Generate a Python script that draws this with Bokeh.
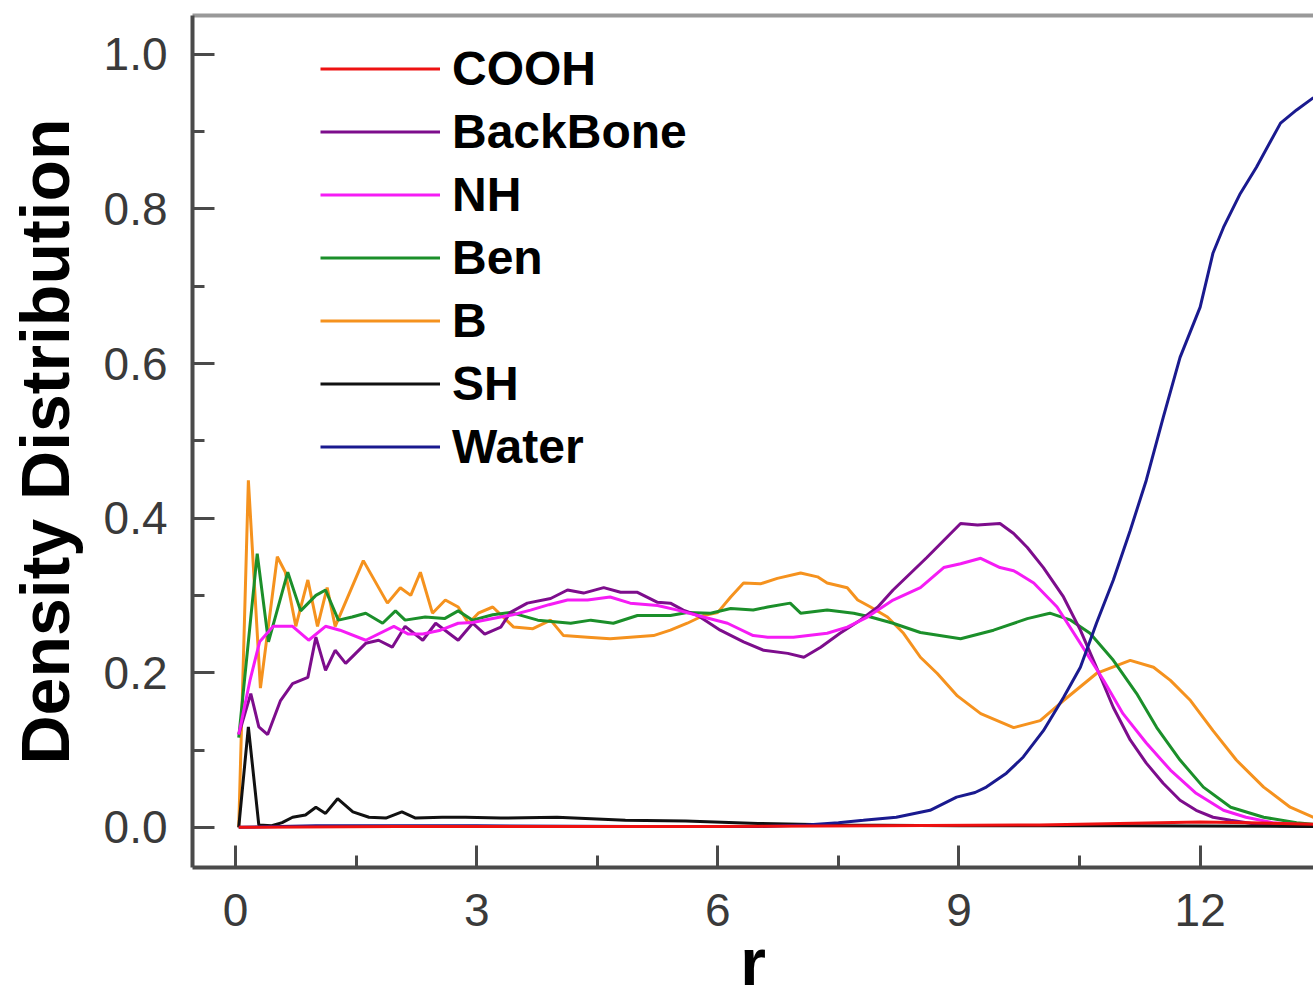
from bokeh.plotting import figure
from bokeh.models import (Range1d, FixedTicker, LinearAxis, Legend, LegendItem,
                          PrintfTickFormatter)
from bokeh.embed import file_html
from bokeh.resources import INLINE

# ---------------- data (r, density) ----------------
COOH = [(0.04, 0.0), (2.0, 0.001), (4.0, 0.001), (6.0, 0.001), (8.0, 0.002),
        (10.0, 0.003), (11.0, 0.005), (12.0, 0.007), (12.6, 0.006), (13.41, 0.004)]

BACKBONE = [(0.04, 0.12), (0.19, 0.173), (0.29, 0.13), (0.4, 0.12), (0.56, 0.164),
            (0.71, 0.186), (0.9, 0.194), (1.0, 0.246), (1.12, 0.203), (1.24, 0.229),
            (1.37, 0.212), (1.62, 0.238), (1.78, 0.242), (1.95, 0.233), (2.11, 0.26),
            (2.33, 0.242), (2.49, 0.264), (2.77, 0.242), (2.95, 0.264), (3.1, 0.25),
            (3.3, 0.259), (3.42, 0.278), (3.63, 0.29), (3.92, 0.296), (4.13, 0.307),
            (4.33, 0.303), (4.58, 0.31), (4.79, 0.304), (5.0, 0.304), (5.25, 0.291),
            (5.41, 0.29), (5.57, 0.281), (5.75, 0.274), (6.03, 0.255), (6.32, 0.24),
            (6.57, 0.229), (6.87, 0.225), (7.07, 0.22), (7.28, 0.233), (7.52, 0.251),
            (7.77, 0.268), (7.99, 0.285), (8.18, 0.307), (8.4, 0.329), (8.6, 0.349),
            (8.81, 0.371), (9.02, 0.393), (9.23, 0.391), (9.51, 0.393), (9.68, 0.38),
            (9.85, 0.362), (10.05, 0.336), (10.3, 0.298), (10.51, 0.255), (10.71, 0.207),
            (10.92, 0.155), (11.13, 0.113), (11.33, 0.083), (11.54, 0.057), (11.75, 0.035),
            (11.95, 0.022), (12.16, 0.013), (12.38, 0.009), (12.7, 0.004), (13.0, 0.002),
            (13.41, 0.001)]

NH = [(0.04, 0.12), (0.18, 0.19), (0.3, 0.24), (0.47, 0.26), (0.71, 0.26), (0.91, 0.242),
      (1.12, 0.26), (1.3, 0.255), (1.62, 0.242), (1.97, 0.26), (2.15, 0.25), (2.33, 0.25),
      (2.55, 0.255), (2.77, 0.264), (2.95, 0.265), (3.2, 0.27), (3.45, 0.275), (3.67, 0.281),
      (3.9, 0.288), (4.13, 0.294), (4.38, 0.294), (4.66, 0.298), (4.91, 0.29), (5.25, 0.287),
      (5.5, 0.281), (5.82, 0.272), (6.12, 0.264), (6.44, 0.248), (6.62, 0.246), (6.94, 0.246),
      (7.36, 0.251), (7.61, 0.259), (7.86, 0.272), (8.18, 0.294), (8.52, 0.31), (8.81, 0.336),
      (9.02, 0.341), (9.27, 0.348), (9.51, 0.336), (9.68, 0.332), (9.93, 0.316), (10.22, 0.285),
      (10.51, 0.238), (10.8, 0.19), (11.04, 0.147), (11.33, 0.109), (11.63, 0.074),
      (11.95, 0.044), (12.29, 0.022), (12.57, 0.013), (12.9, 0.006), (13.41, 0.002)]

BEN = [(0.04, 0.116), (0.27, 0.354), (0.41, 0.24), (0.65, 0.33), (0.81, 0.28), (1.0, 0.30),
       (1.12, 0.307), (1.28, 0.268), (1.45, 0.272), (1.62, 0.277), (1.83, 0.264), (1.99, 0.28),
       (2.11, 0.268), (2.36, 0.272), (2.6, 0.27), (2.77, 0.28), (2.95, 0.268), (3.2, 0.275),
       (3.42, 0.278), (3.76, 0.268), (4.17, 0.264), (4.42, 0.268), (4.7, 0.264), (5.0, 0.274),
       (5.41, 0.274), (5.62, 0.278), (5.91, 0.277), (6.16, 0.283), (6.44, 0.281), (6.62, 0.285),
       (6.9, 0.29), (7.03, 0.277), (7.36, 0.281), (7.69, 0.277), (7.9, 0.272), (8.18, 0.264),
       (8.52, 0.252), (9.02, 0.244), (9.43, 0.255), (9.85, 0.27), (10.13, 0.277), (10.39, 0.268),
       (10.63, 0.251), (10.92, 0.216), (11.21, 0.173), (11.46, 0.129), (11.75, 0.087),
       (12.04, 0.052), (12.38, 0.026), (12.79, 0.013), (13.2, 0.006), (13.41, 0.004)]

B = [(0.04, 0.0), (0.16, 0.449), (0.31, 0.18), (0.52, 0.35), (0.62, 0.33), (0.75, 0.26),
     (0.9, 0.32), (1.02, 0.26), (1.14, 0.31), (1.24, 0.26), (1.59, 0.345), (1.89, 0.29),
     (2.05, 0.31), (2.18, 0.30), (2.3, 0.33), (2.45, 0.277), (2.61, 0.294), (2.77, 0.285),
     (2.9, 0.264), (3.02, 0.277), (3.2, 0.285), (3.46, 0.259), (3.7, 0.257), (3.92, 0.268),
     (4.08, 0.248), (4.38, 0.246), (4.66, 0.244), (4.91, 0.246), (5.2, 0.248), (5.41, 0.255),
     (5.62, 0.264), (5.82, 0.274), (6.0, 0.278), (6.16, 0.298), (6.32, 0.316), (6.53, 0.315),
     (6.74, 0.322), (7.03, 0.329), (7.24, 0.324), (7.36, 0.316), (7.61, 0.31), (7.74, 0.294),
     (7.9, 0.285), (8.11, 0.272), (8.31, 0.251), (8.52, 0.22), (8.73, 0.199), (8.98, 0.17),
     (9.27, 0.147), (9.68, 0.129), (10.01, 0.138), (10.3, 0.164), (10.71, 0.199),
     (11.13, 0.216), (11.42, 0.207), (11.63, 0.19), (11.88, 0.164), (12.16, 0.125),
     (12.45, 0.087), (12.79, 0.052), (13.12, 0.026), (13.41, 0.013)]

SH = [(0.04, 0.0), (0.16, 0.13), (0.29, 0.003), (0.45, 0.002), (0.58, 0.006), (0.71, 0.013),
      (0.87, 0.016), (1.0, 0.026), (1.12, 0.018), (1.27, 0.037), (1.46, 0.02), (1.66, 0.013),
      (1.87, 0.012), (2.07, 0.02), (2.24, 0.012), (2.57, 0.013), (2.86, 0.013), (3.3, 0.012),
      (4.0, 0.013), (4.85, 0.009), (5.6, 0.008), (6.5, 0.005), (7.5, 0.003), (9.0, 0.002),
      (11.0, 0.002), (13.41, 0.001)]

WATER = [(0.04, 0.0), (1.0, 0.002), (3.0, 0.002), (5.0, 0.001), (6.5, 0.001), (7.1, 0.003),
         (7.5, 0.006), (7.81, 0.009), (8.22, 0.013), (8.64, 0.022), (8.97, 0.039), (9.2, 0.045),
         (9.34, 0.052), (9.59, 0.07), (9.8, 0.091), (10.05, 0.125), (10.3, 0.168), (10.51, 0.207),
         (10.71, 0.264), (10.92, 0.32), (11.13, 0.384), (11.33, 0.449), (11.54, 0.53),
         (11.75, 0.608), (12.0, 0.673), (12.16, 0.743), (12.29, 0.776), (12.5, 0.82),
         (12.7, 0.854), (13.0, 0.911), (13.2, 0.928), (13.41, 0.944)]

LEGEND_ORDER = ["COOH", "BackBone", "NH", "Ben", "B", "SH", "Water"]
SERIES = {"COOH": COOH, "BackBone": BACKBONE, "NH": NH, "Ben": BEN, "B": B,
          "SH": SH, "Water": WATER}
COLORS = {"COOH": "#ee1111", "BackBone": "#7d0d8c", "NH": "#f51cf5", "Ben": "#1b8f2a",
          "B": "#f5921e", "SH": "#111111", "Water": "#1a1a8f"}
DRAW_ORDER = ["B", "Ben", "BackBone", "NH", "SH", "Water", "COOH"]

X_TICKS = [0, 3, 6, 9, 12]
X_MINOR = [1.5, 4.5, 7.5, 10.5, 13.5]
Y_TICKS = [0.0, 0.2, 0.4, 0.6, 0.8, 1.0]
Y_MINOR = [0.1, 0.3, 0.5, 0.7, 0.9]

FONT = "Liberation Sans"
AXIS_COLOR = "#4a4a4a"

p = figure(width=1313, height=1002,
           x_range=Range1d(-0.535, 13.41), y_range=Range1d(-0.052, 1.0502),
           output_backend="svg", toolbar_location=None,
           min_border_left=192, min_border_right=0, min_border_top=15,
           min_border_bottom=135)
p.grid.visible = False
p.outline_line_color = None
p.background_fill_color = "white"
p.border_fill_color = "white"

renderers = {}
for name in DRAW_ORDER:
    pts = SERIES[name]
    xs = [a for a, _ in pts]
    ys = [b for _, b in pts]
    renderers[name] = p.line(xs, ys, line_color=COLORS[name], line_width=3)

xa = p.xaxis[0]
ya = p.yaxis[0]
xa.ticker = FixedTicker(ticks=X_TICKS, minor_ticks=X_MINOR)
ya.ticker = FixedTicker(ticks=Y_TICKS, minor_ticks=Y_MINOR)
xa.formatter = PrintfTickFormatter(format="%d")
ya.formatter = PrintfTickFormatter(format="%.1f")
for ax in (xa, ya):
    ax.axis_line_color = AXIS_COLOR
    ax.axis_line_width = 4
    ax.major_tick_line_color = AXIS_COLOR
    ax.major_tick_line_width = 3
    ax.minor_tick_line_color = AXIS_COLOR
    ax.minor_tick_line_width = 3
    ax.major_tick_in = 22
    ax.major_tick_out = 0
    ax.minor_tick_in = 12
    ax.minor_tick_out = 0
    ax.major_label_text_font = FONT
    ax.major_label_text_font_size = "46px"
    ax.major_label_text_color = "#3a3a3a"
ya.major_label_standoff = 25
xa.major_label_standoff = 26
ya.axis_label = "Density Distribution"
ya.axis_label_text_font = FONT
ya.axis_label_text_font_size = "68px"
ya.axis_label_text_font_style = "bold"
ya.axis_label_text_color = "black"
ya.axis_label_standoff = 18

xa.axis_label = "r"
xa.axis_label_text_font = FONT
xa.axis_label_text_font_size = "66px"
xa.axis_label_text_font_style = "bold"
xa.axis_label_text_color = "black"
xa.axis_label_standoff = -4

top = LinearAxis(ticker=FixedTicker(ticks=[]), axis_line_color="#999999",
                 axis_line_width=4, major_tick_line_color=None,
                 minor_tick_line_color=None, major_label_text_font_size="0px")
p.add_layout(top, "above")

items = [LegendItem(label=name, renderers=[renderers[name]]) for name in LEGEND_ORDER]
legend = Legend(items=items, location=(128, 393), padding=0, margin=0, spacing=8,
                glyph_width=120, glyph_height=55, label_height=55, label_standoff=12,
                label_text_font=FONT, label_text_font_size="48px",
                label_text_font_style="bold", label_text_color="black",
                border_line_color=None, background_fill_alpha=0)
p.add_layout(legend)

open("out.html", "w").write(file_html(p, INLINE))
